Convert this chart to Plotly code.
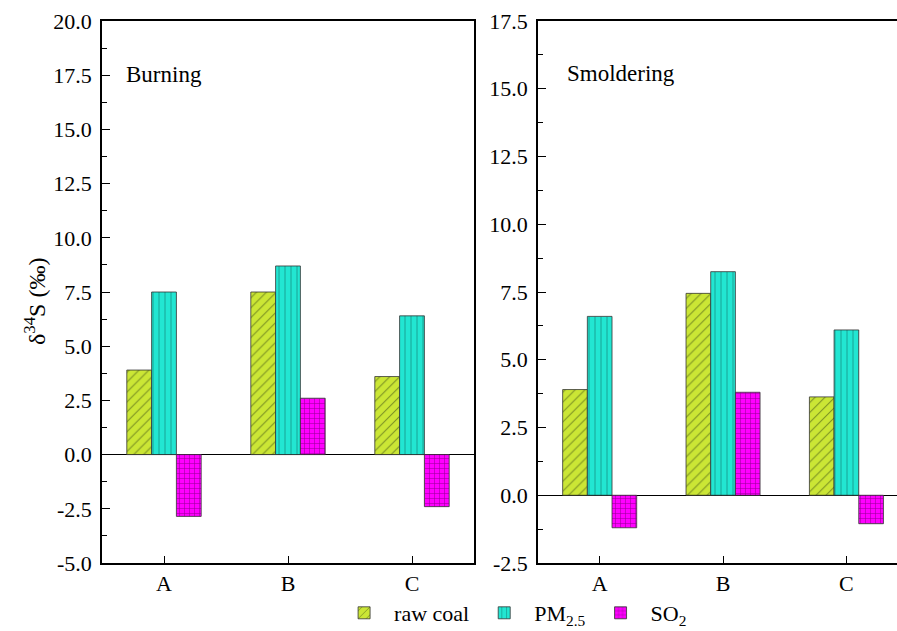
import plotly.graph_objects as go

categories = ["A", "B", "C"]
series_names = ["raw coal", "PM<sub>2.5</sub>", "SO<sub>2</sub>"]

burning_raw_coal = [3.9, 7.5, 3.6]
burning_pm25 = [7.5, 8.7, 6.4]
burning_so2 = [-2.85, 2.6, -2.4]

smolder_raw_coal = [3.9, 7.45, 3.63]
smolder_pm25 = [6.6, 8.25, 6.1]
smolder_so2 = [-1.2, 3.8, -1.05]

y_ticks_left = [-5.0, -2.5, 0.0, 2.5, 5.0, 7.5, 10.0, 12.5, 15.0, 17.5, 20.0]
y_ticks_right = [-2.5, 0.0, 2.5, 5.0, 7.5, 10.0, 12.5, 15.0, 17.5]

fills = ["#cbe635", "#22e6d2", "#ff00ff"]
fgs = ["#2a3a10", "#0b4f48", "#2a002a"]
shapes_p = ["/", "|", "+"]
psize = [7, 6, 5]
psolid = [0.15, 0.15, 0.2]

FONT = "'Times New Roman', 'Liberation Serif', serif"
W, H = 897, 631
ytop, ybot = 21, 563

fig = go.Figure()

panels = [
    ("x", "y", [burning_raw_coal, burning_pm25, burning_so2], True),
    ("x2", "y2", [smolder_raw_coal, smolder_pm25, smolder_so2], False),
]
for xa, ya, vals, show in panels:
    for i in range(3):
        fig.add_trace(go.Bar(
            x=categories, y=vals[i], name=series_names[i],
            xaxis=xa, yaxis=ya, showlegend=show,
            marker=dict(color=fills[i],
                        line=dict(color="#333333", width=0.8),
                        pattern=dict(shape=shapes_p[i], fgcolor=fgs[i],
                                     size=psize[i], solidity=psolid[i])),
        ))

def fmt(v):
    return f"{v:.1f}"

common_x = dict(type="category", range=[-0.5, 2.5], showline=True, linecolor="black",
                linewidth=1.6, mirror=True, ticks="inside", ticklen=7, tickwidth=1.4,
                tickcolor="black", showgrid=False, zeroline=False, automargin=False,
                tickfont=dict(family=FONT, size=22, color="black"))
common_y = dict(showline=True, linecolor="black", linewidth=1.6,
                ticks="inside", ticklen=8, tickwidth=1.4, tickcolor="black",
                showgrid=False, zeroline=True, zerolinecolor="black", zerolinewidth=1.4,
                ticklabelstandoff=4, automargin=False,
                minor=dict(ticks="inside", ticklen=5, tickwidth=1.2, tickcolor="black", dtick=1.25),
                tickfont=dict(family=FONT, size=22, color="black"))

ydom = [1 - ybot / H, 1 - ytop / H]
fig.update_layout(
    width=W, height=H,
    margin=dict(l=0, r=0, t=0, b=0, autoexpand=False),
    paper_bgcolor="white", plot_bgcolor="white",
    barmode="group", bargap=0.4, bargroupgap=0,
    font=dict(family=FONT, size=22, color="black"),
    xaxis=dict(common_x, domain=[102 / W, 474 / W], anchor="y"),
    yaxis=dict(common_y, domain=ydom, range=[-5, 20], tickvals=y_ticks_left,
               ticktext=[fmt(v) for v in y_ticks_left], mirror=True, anchor="x"),
    xaxis2=dict(common_x, domain=[538 / W, 1.0], anchor="y2", range=[-0.5, 2.41]),
    yaxis2=dict(common_y, domain=ydom, range=[-2.5, 17.5], tickvals=y_ticks_right,
                ticktext=[fmt(v) for v in y_ticks_right], mirror=False, anchor="x2"),
    legend=dict(orientation="h", x=0.572, y=1 - 613 / H, xanchor="center", yanchor="middle",
                font=dict(family=FONT, size=22, color="black"), bgcolor="rgba(0,0,0,0)",
                itemwidth=50, tracegroupgap=0),
    annotations=[
        dict(text="Burning", x=124 / W, y=1 - 75 / H, xref="paper", yref="paper",
             xanchor="left", yanchor="middle", showarrow=False,
             font=dict(family=FONT, size=23, color="black")),
        dict(text="Smoldering", x=565 / W, y=1 - 73 / H, xref="paper", yref="paper",
             xanchor="left", yanchor="middle", showarrow=False,
             font=dict(family=FONT, size=23, color="black")),
        dict(text="δ<sup>34</sup>S (‰)", x=35 / W, y=1 - 302 / H, xref="paper", yref="paper",
             xanchor="center", yanchor="middle", showarrow=False, textangle=-90,
             font=dict(family=FONT, size=24, color="black")),
    ],
)

fig.write_html("out.html", config={"displayModeBar": False},
               post_script="document.body.style.margin='0';document.body.style.overflow='hidden';")
